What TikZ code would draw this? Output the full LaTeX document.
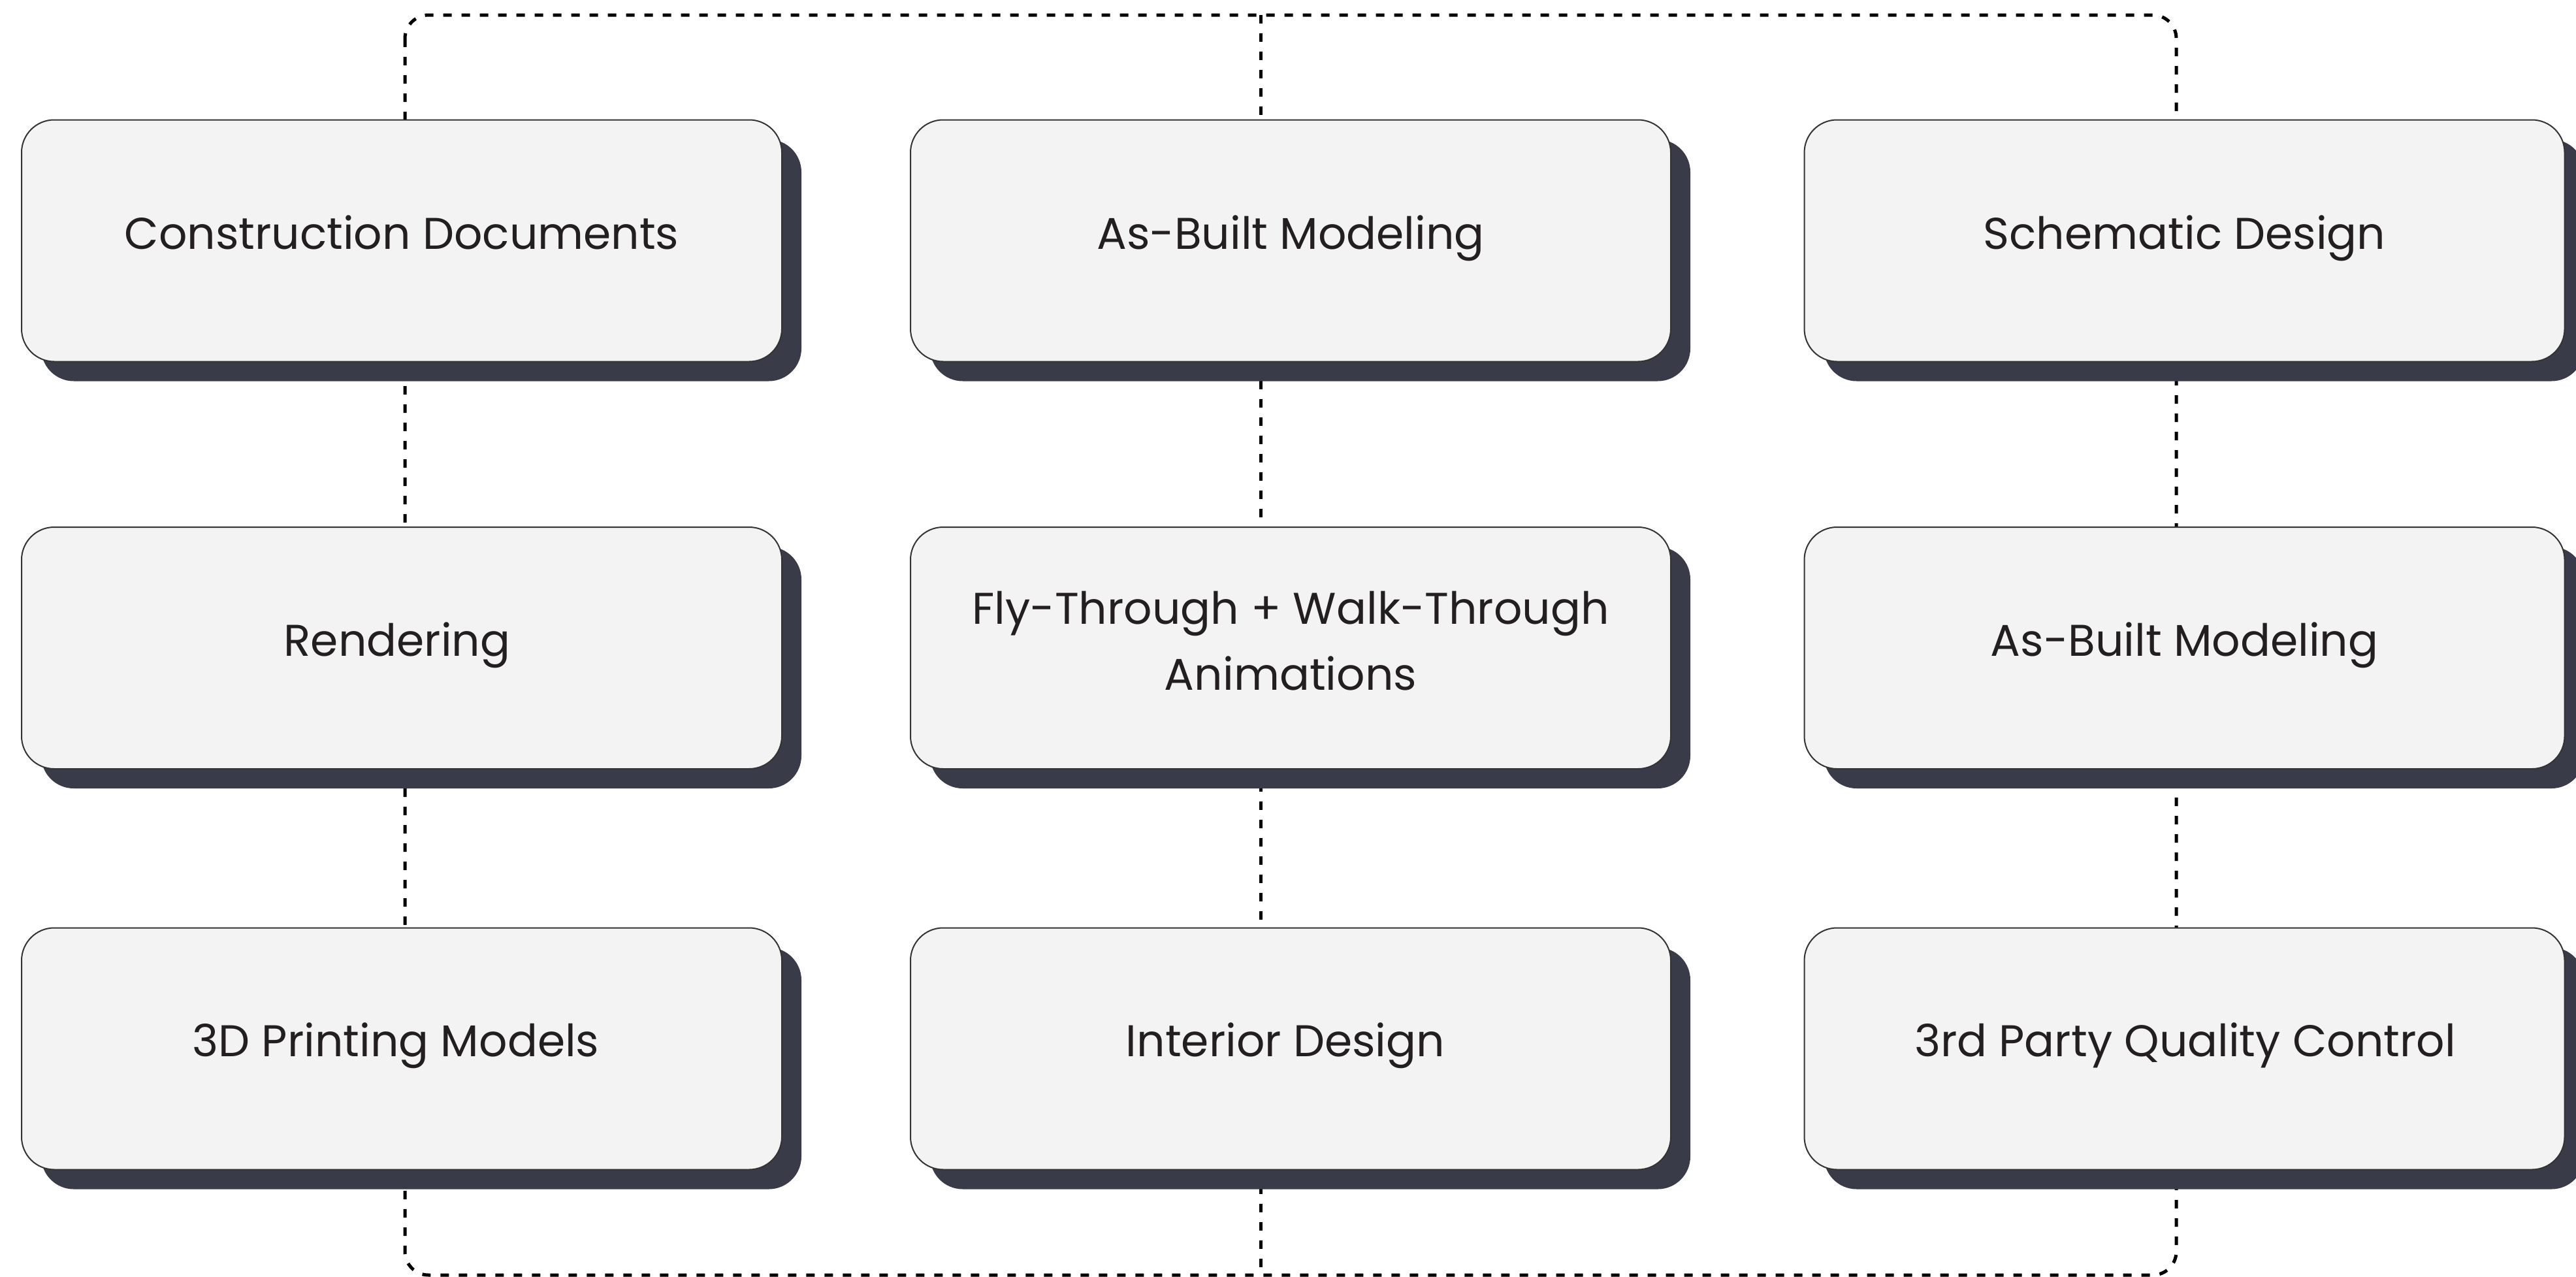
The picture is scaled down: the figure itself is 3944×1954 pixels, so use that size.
\documentclass[tikz,border=0pt]{standalone}
\usepackage{fontspec}
\setmainfont{Poppins}
\usetikzlibrary{shadows}
\definecolor{boxfill}{HTML}{F2F3F2}
\definecolor{boxline}{HTML}{333333}
\definecolor{shadowc}{HTML}{393C48}
\definecolor{txt}{HTML}{231F20}
\begin{document}
\begin{tikzpicture}[x=0.5pt,y=-0.5pt,
  cardbox/.style={draw=boxline, line width=1pt, fill=boxfill, rounded corners=25pt,
    minimum width=582pt, minimum height=185pt, inner sep=0pt,
    drop shadow={shadow xshift=15pt, shadow yshift=-15pt, fill=shadowc, opacity=1}},
  cardtext/.style={anchor=base, text=txt, font=\fontsize{34pt}{50.5pt}\selectfont,
    inner sep=0pt, align=center},
  guide/.style={draw=black, line width=2.5pt, dash pattern=on 6.5pt off 7.5pt}]
\useasboundingbox (0,0) rectangle (3944,1954);
% guide lines
\coordinate (gtl) at (620,23);
\coordinate (gbr) at (3332,1952);
\coordinate (gmt) at (1930,23);
\coordinate (gmb) at (1930,1952);
\draw[guide, rounded corners=18pt] (gtl) rectangle (gbr);
\draw[guide] (gmt) -- (gmb);
% boxes
\node[cardbox] (b11) at (615,368.5) {};
\node[cardbox] (b12) at (1976,368.5) {};
\node[cardbox] (b13) at (3344.5,368.5) {};
\node[cardbox] (b21) at (615,992) {};
\node[cardbox] (b22) at (1976,992) {};
\node[cardbox] (b23) at (3344.5,992) {};
\node[cardbox] (b31) at (615,1605.5) {};
\node[cardbox] (b32) at (1976,1605.5) {};
\node[cardbox] (b33) at (3344.5,1605.5) {};
% texts
\node[cardtext] (t11) at (615,381) {Construction Documents};
\node[cardtext] (t12) at (1976,381) {As-Built Modeling};
\node[cardtext] (t13) at (3344.5,381) {Schematic Design};
\node[cardtext] (t21) at (608,1004) {Rendering};
\node[cardtext] (t22) at (1976,1056) {Fly-Through + Walk-Through\\Animations};
\node[cardtext] (t23) at (3344.5,1004) {As-Built Modeling};
\node[cardtext] (t31) at (606,1617) {3D Printing Models};
\node[cardtext] (t32) at (1968,1617) {Interior Design};
\node[cardtext] (t33) at (3345.5,1617) {3rd Party Quality Control};
\end{tikzpicture}
\end{document}
